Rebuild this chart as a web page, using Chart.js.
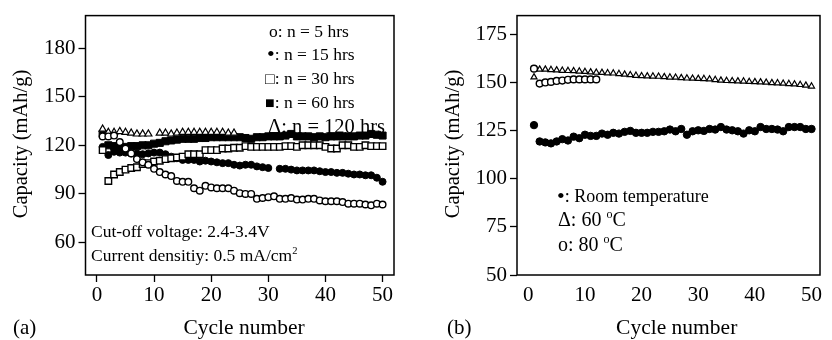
<!DOCTYPE html>
<html lang="en">
<head>
<meta charset="UTF-8">
<title>Capacity vs cycle number</title>
<script src="https://cdn.jsdelivr.net/npm/chart.js@4"></script>
<style>
  html, body { margin: 0; padding: 0; background: #fff; }
  #wrap { position: relative; width: 832px; height: 340px; }
  canvas { position: absolute; top: 0; }
</style>
</head>
<body>
<div id="wrap">
  <canvas id="chartA" width="416" height="340" style="left:0"></canvas>
  <canvas id="chartB" width="416" height="340" style="left:416px"></canvas>
</div>
<script>
// cycle numbers 1..50
const cycles = [1,2,3,4,5,6,7,8,9,10,11,12,13,14,15,16,17,18,19,20,21,22,23,24,25,
                26,27,28,29,30,31,32,33,34,35,36,37,38,39,40,41,42,43,44,45,46,47,48,49,50];
const xTicks = [0, 10, 20, 30, 40, 50];
const yTicksA = [60, 90, 120, 150, 180];
const yTicksB = [50, 75, 100, 125, 150, 175];

// (a) capacity for different holding times n
const cap5h = [125.5,125.5,126,122,118,115,111.5,109.5,108,105.5,103.5,102,101,98,97.5,97.5,93.5,92,95,94,
               93.5,93.5,93.5,92,90.5,90,90,87,87.5,88,88.5,87,87,87.5,86.5,86.5,87,87,86,85.5,
               85.5,85.5,85,84,84,84,83.5,83,84,83.5];
const cap15h = [119,114,116,115.5,115.5,115,115,114.5,115,115.5,115.5,114.5,113,112,111,111,111,110,110.5,110,
                109.5,109,109,108,107.5,108,108,107,106.5,106,null,105.5,105.5,105,104.5,104.5,104.5,104.5,104,103.5,
                103.5,103,103,102.5,102,102,101.5,101.5,100,97.5];
const cap30h = [117,98,102,103.5,105,106,106.5,108.5,109,110,110.5,111.5,112,112.5,113,114.5,114.5,114.5,117,117,
                117,118,118,118.5,118.5,119.5,119,119,119,119,119,119,119.5,119.5,119,120,120,120,120,119,
                118,118,120,120,119,119,120,119.5,119.5,119.5];
const cap60h = [127,120,119.5,119,119,119.5,119.5,120,120,121,121.5,122.5,123,123.5,124,124,124,124.5,124.5,125,
                125,125,125,125,125,124.5,124,125,125,125.5,125.5,125.5,126,127,125.5,125.5,125.5,125,125.5,125,
                125.5,125.5,125.5,125.5,125.5,126,126,127,126.5,126];
const cap120h = [130,128,128,128.5,128,127.5,127,127,127,null,127.5,127.5,127,127.5,128,128,128,128,128,128,
                 128,128,127.5,127.5];

// (b) capacity at different temperatures
const capRoom = [128,119.5,119,118.5,119.5,120.7,120,122,121.2,123,122.4,122.4,123.6,123,124,123.6,124.5,125,124,124,
                 124,124.5,124.5,124.8,125.7,124.8,126,123,124.8,125.3,125,126,125.7,127,125.7,125.3,124.8,123.6,125.3,124.8,
                 127,126,126,125.7,124.8,127,127,127,126,126];
const cap60C = [153,157,157,156.8,156.6,156.4,156.3,156.2,156,155.8,155.6,155.4,155.3,155.1,155,154.7,154.4,154.1,153.8,153.6,
                153.5,153.4,153.3,153.1,152.9,152.8,152.6,152.4,152.3,152.2,152.1,151.9,151.6,151.3,151.1,151,150.9,150.8,150.6,150.5,
                150.4,150.2,150,149.9,149.7,149.5,149.3,149,148.7,148.2];
const cap80C = [157.4,149.6,150.2,150.5,151,151.2,151.6,151.8,151.8,151.8,151.8,151.8];

const serif = '"Liberation Serif", "Times New Roman", serif';

function pts(arr) {
    return arr.map((v, i) => ({ x: cycles[i], y: v })).filter(p => p.y !== null);
}

// writes text made of parts (normal / superscript / own size)
function drawParts(ctx, item) {
    ctx.save();
    ctx.fillStyle = '#000';
    ctx.textBaseline = 'alphabetic';
    ctx.translate(item.x, item.y);
    if (item.rot) ctx.rotate(item.rot);
    const parts = item.parts.map(p => {
        const size = p.sup ? item.size * 0.6 : (p.size || item.size);
        ctx.font = size + 'px ' + serif;
        return { p, size, w: ctx.measureText(p.t).width };
    });
    const total = parts.reduce((s, q) => s + q.w, 0);
    let x = item.align === 'center' ? -total / 2 : 0;
    parts.forEach(q => {
        ctx.font = q.size + 'px ' + serif;
        const dy = q.p.sup ? -item.size * 0.4 : (q.p.dy || 0);
        ctx.fillText(q.p.t, x, dy);
        x += q.w;
    });
    ctx.restore();
}

const decor = {
    id: 'decor',
    afterDraw(chart, args, opts) {
        const ctx = chart.ctx;
        const a = chart.chartArea;
        ctx.save();
        ctx.strokeStyle = '#000';
        ctx.lineWidth = 1.5;
        ctx.strokeRect(a.left, a.top, a.right - a.left, a.bottom - a.top);
        ctx.restore();
        (opts.texts || []).forEach(t => drawParts(ctx, t));
    }
};

function scales(xColor, yTicks, yMin, yMax, yWidth) {
    return {
        x: {
            type: 'linear', min: -2, max: xColor === 'none' ? 51.5 : 52,
            afterBuildTicks: s => { s.ticks = xTicks.map(v => ({ value: v })); },
            afterFit: s => { s.height = 65; },
            grid: { drawOnChartArea: false, tickLength: 7, tickWidth: 1.3,
                    tickColor: xColor === 'none' ? 'rgba(0,0,0,0)' : '#000' },
            border: { display: false },
            ticks: { color: '#000', font: { family: serif, size: 21 }, padding: 1,
                     maxRotation: 0, autoSkip: false }
        },
        y: {
            type: 'linear', min: yMin, max: yMax,
            afterBuildTicks: s => { s.ticks = yTicks.map(v => ({ value: v })); },
            afterFit: s => { s.width = yWidth; },
            grid: { drawOnChartArea: false, tickLength: 7, tickWidth: 1.3, tickColor: '#000' },
            border: { display: false },
            ticks: { color: '#000', font: { family: serif, size: 21 }, padding: 3, autoSkip: false }
        }
    };
}

const openStyle = { borderColor: '#000', backgroundColor: '#fff', borderWidth: 1.4, showLine: false };
const fillStyle = { borderColor: '#000', backgroundColor: '#000', borderWidth: 1, showLine: false };

new Chart(document.getElementById('chartA'), {
    type: 'scatter',
    data: {
        datasets: [
            { label: 'n = 5 hrs', data: pts(cap5h), pointStyle: 'circle', pointRadius: 3.3, ...openStyle },
            { label: 'n = 30 hrs', data: pts(cap30h), pointStyle: 'rect', pointRadius: 4.6, ...openStyle },
            { label: 'n = 120 hrs', data: pts(cap120h), pointStyle: 'triangle', pointRadius: 4.1, ...openStyle, borderWidth: 1.2 },
            { label: 'n = 15 hrs', data: pts(cap15h), pointStyle: 'circle', pointRadius: 3.5, ...fillStyle },
            { label: 'n = 60 hrs', data: pts(cap60h), pointStyle: 'rect', pointRadius: 5, ...fillStyle }
        ]
    },
    options: {
        responsive: false, animation: false,
        layout: { padding: { left: 0, right: 22, top: 14, bottom: 0 } },
        scales: scales('#000', yTicksA, 40, 200, 85.5),
        plugins: {
            legend: { display: false }, tooltip: { enabled: false },
            decor: { texts: [
                { x: 269, y: 36.5, size: 17.5, parts: [{ t: 'o: n = 5 hrs' }] },
                { x: 267, y: 60, size: 17.5, parts: [{ t: '•', size: 22, dy: 1 }, { t: ': n = 15 hrs' }] },
                { x: 265, y: 83.5, size: 17.5, parts: [{ t: '□', size: 16 }, { t: ': n = 30 hrs' }] },
                { x: 265, y: 107.5, size: 17.5, parts: [{ t: '■', size: 16 }, { t: ': n = 60 hrs' }] },
                { x: 268, y: 133, size: 20.5, parts: [{ t: 'Δ: n = 120 hrs' }] },
                { x: 91, y: 237, size: 17.5, parts: [{ t: 'Cut-off voltage: 2.4-3.4V' }] },
                { x: 91, y: 261, size: 17.5, parts: [{ t: 'Current densitiy: 0.5 mA/cm' }, { t: '2', sup: true }] },
                { x: 244, y: 334, size: 21.5, align: 'center', parts: [{ t: 'Cycle number' }] },
                { x: 27.3, y: 144, size: 20.5, align: 'center', rot: -Math.PI / 2, parts: [{ t: 'Capacity (mAh/g)' }] },
                { x: 13, y: 334, size: 21, parts: [{ t: '(a)' }] }
            ] }
        }
    },
    plugins: [decor]
});

new Chart(document.getElementById('chartB'), {
    type: 'scatter',
    data: {
        datasets: [
            { label: '80 °C', data: pts(cap80C), pointStyle: 'circle', pointRadius: 3.4, ...openStyle },
            { label: '60 °C', data: pts(cap60C), pointStyle: 'triangle', pointRadius: 3.5, ...openStyle, borderWidth: 1.2 },
            { label: 'Room temperature', data: pts(capRoom), pointStyle: 'circle', pointRadius: 3.7, ...fillStyle }
        ]
    },
    options: {
        responsive: false, animation: false,
        layout: { padding: { left: 0, right: 12, top: 15, bottom: 0 } },
        scales: scales('none', yTicksB, 50, 185, 101),
        plugins: {
            legend: { display: false }, tooltip: { enabled: false },
            decor: { texts: [
                { x: 141, y: 202, size: 18, parts: [{ t: '•', size: 22, dy: 1 }, { t: ': Room temperature' }] },
                { x: 142, y: 226, size: 20, parts: [{ t: 'Δ: 60 ' }, { t: 'o', sup: true }, { t: 'C' }] },
                { x: 142, y: 251, size: 20, parts: [{ t: 'o: 80 ' }, { t: 'o', sup: true }, { t: 'C' }] },
                { x: 260.7, y: 334, size: 21.5, align: 'center', parts: [{ t: 'Cycle number' }] },
                { x: 42.9, y: 144, size: 20.5, align: 'center', rot: -Math.PI / 2, parts: [{ t: 'Capacity (mAh/g)' }] },
                { x: 31, y: 334, size: 21, parts: [{ t: '(b)' }] }
            ] }
        }
    },
    plugins: [decor]
});
</script>
</body>
</html>
